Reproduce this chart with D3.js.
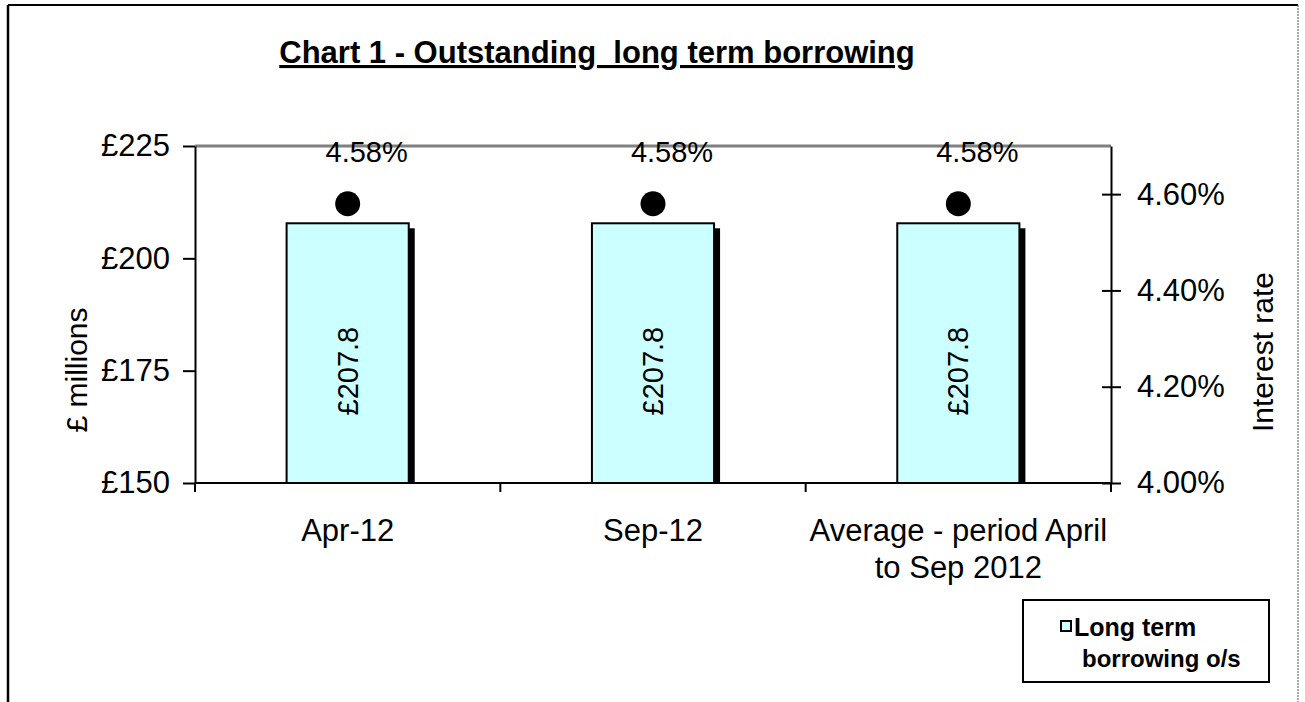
<!DOCTYPE html>
<html lang="en">
<head>
<meta charset="UTF-8">
<title>Chart 1 - Outstanding long term borrowing</title>
<script src="https://d3js.org/d3.v7.min.js"></script>
<style>
    body { margin: 0; padding: 0; background: #fff; }
    svg { display: block; font-family: "Liberation Sans", Arial, sans-serif; }
    .axis text { font-size: 31px; fill: #000; }
    .axis path, .axis line { stroke: #000; stroke-width: 2px; }
</style>
</head>
<body>
<div id="chart"></div>
<script>
    // data
    const categories = ["Apr-12", "Sep-12", "Average - period April to Sep 2012"];
    const categoryLines = [["Apr-12"], ["Sep-12"], ["Average - period April", "to Sep 2012"]];
    const borrowing = [207.8, 207.8, 207.8];   // £ millions
    const rates = [4.58, 4.58, 4.58];          // interest rate %
    const leftTicks = [150, 175, 200, 225];
    const rightTicks = [4.0, 4.2, 4.4, 4.6];

    const W = 1305, H = 702;
    const margin = { top: 146, right: 194, bottom: 219, left: 195 };
    const width = W - margin.left - margin.right;
    const height = H - margin.top - margin.bottom;

    const svg = d3.select("#chart").append("svg")
        .attr("width", W)
        .attr("height", H);

    // outer frame
    svg.append("line").attr("x1", 8).attr("x2", 1298).attr("y1", 5).attr("y2", 5)
        .attr("stroke", "#000").attr("stroke-width", 2);
    svg.append("line").attr("x1", 8).attr("x2", 8).attr("y1", 5).attr("y2", H)
        .attr("stroke", "#000").attr("stroke-width", 2.5);
    svg.append("line").attr("x1", 1298).attr("x2", 1298).attr("y1", 5).attr("y2", H)
        .attr("stroke", "#555").attr("stroke-width", 1).attr("stroke-dasharray", "2,1");

    // title
    svg.append("text")
        .attr("x", 597).attr("y", 63)
        .attr("text-anchor", "middle")
        .style("font-size", "31px").style("font-weight", "bold")
        .style("text-decoration", "underline")
        .attr("xml:space", "preserve")
        .text("Chart 1 - Outstanding  long term borrowing");

    const g = svg.append("g").attr("transform", `translate(${margin.left},${margin.top})`);

    const x = d3.scaleBand().domain(categories).range([0, width]).paddingInner(0.6).paddingOuter(0.3);
    const yL = d3.scaleLinear().domain([150, 225]).range([height, 0]);
    const yR = d3.scaleLinear().domain([4.0, 4.7]).range([height, 0]);

    // grey top border of plot area
    g.append("line").attr("x1", 0).attr("x2", width).attr("y1", 0).attr("y2", 0)
        .attr("stroke", "#808080").attr("stroke-width", 3);

    // bars with drop shadow
    const bars = g.selectAll(".bar").data(borrowing).enter().append("g").attr("class", "bar");
    bars.append("rect")
        .attr("x", (d, i) => x(categories[i]) + 6)
        .attr("y", d => yL(d) + 5)
        .attr("width", x.bandwidth())
        .attr("height", d => yL(150) - yL(d) - 5)
        .attr("fill", "#000");
    bars.append("rect")
        .attr("x", (d, i) => x(categories[i]))
        .attr("y", d => yL(d))
        .attr("width", x.bandwidth())
        .attr("height", d => yL(150) - yL(d))
        .attr("fill", "#ccffff")
        .attr("stroke", "#000").attr("stroke-width", 2);
    bars.append("text")
        .attr("transform", (d, i) => `translate(${x(categories[i]) + x.bandwidth() / 2},${(yL(d) + yL(150)) / 2 + 18}) rotate(-90)`)
        .attr("text-anchor", "middle")
        .attr("dy", "0.35em")
        .style("font-size", "29px")
        .text(d => "£" + d.toFixed(1));

    // left axis
    g.append("g").attr("class", "axis")
        .call(d3.axisLeft(yL).tickValues(leftTicks).tickSize(12).tickSizeOuter(0).tickPadding(13).tickFormat(d => "£" + d));

    // right axis, ticks crossing the line
    const ra = g.append("g").attr("class", "axis").attr("transform", `translate(${width},0)`)
        .call(d3.axisRight(yR).tickValues(rightTicks).tickSize(10).tickSizeOuter(0).tickPadding(16).tickFormat(d => d.toFixed(2) + "%"));
    ra.selectAll(".tick").append("line").attr("x2", -9).attr("stroke", "#000").attr("stroke-width", 2);

    // bottom axis, ticks on category boundaries
    const bounds = d3.range(categories.length + 1).map(i => i * x.step());
    const xb = g.append("g").attr("class", "axis").attr("transform", `translate(0,${height})`);
    xb.append("line").attr("x1", 0).attr("x2", width);
    xb.selectAll(".btick").data(bounds).enter().append("line")
        .attr("x1", d => d).attr("x2", d => d).attr("y1", 0).attr("y2", 9);
    xb.selectAll(".cat").data(categoryLines).enter().append("text")
        .attr("text-anchor", "middle")
        .attr("transform", (d, i) => `translate(${x(categories[i]) + x.bandwidth() / 2},58)`)
        .each(function (lines) {
            d3.select(this).selectAll("tspan").data(lines).enter().append("tspan")
                .attr("x", 0).attr("dy", (l, j) => j === 0 ? 0 : 37).text(l => l);
        });

    // interest rate markers
    g.selectAll(".dot").data(rates).enter().append("circle")
        .attr("cx", (d, i) => x(categories[i]) + x.bandwidth() / 2)
        .attr("cy", d => yR(d))
        .attr("r", 12.5)
        .attr("fill", "#000");
    g.selectAll(".rlabel").data(rates).enter().append("text")
        .attr("x", (d, i) => x(categories[i]) + x.bandwidth() / 2 + 19)
        .attr("y", d => yR(d) - 42)
        .attr("text-anchor", "middle")
        .style("font-size", "29px")
        .text(d => d.toFixed(2) + "%");

    // axis titles
    svg.append("text")
        .attr("transform", "translate(76,370) rotate(-90)")
        .attr("text-anchor", "middle").attr("dy", "0.35em")
        .style("font-size", "30px")
        .text("£ millions");
    svg.append("text")
        .attr("transform", "translate(1262,352) rotate(-90)")
        .attr("text-anchor", "middle").attr("dy", "0.35em")
        .style("font-size", "30px")
        .text("Interest rate");

    // legend
    const lg = svg.append("g").attr("transform", "translate(1023,600)");
    lg.append("rect").attr("width", 246).attr("height", 82)
        .attr("fill", "#fff").attr("stroke", "#000").attr("stroke-width", 2);
    lg.append("rect").attr("x", 38).attr("y", 21).attr("width", 10).attr("height", 10)
        .attr("fill", "#ccffff").attr("stroke", "#000").attr("stroke-width", 2);
    lg.append("text").attr("x", 51).attr("y", 36)
        .style("font-size", "25px").style("font-weight", "bold").text("Long term");
    lg.append("text").attr("x", 59).attr("y", 67)
        .style("font-size", "24px").style("font-weight", "bold").text("borrowing o/s");
</script>
</body>
</html>
